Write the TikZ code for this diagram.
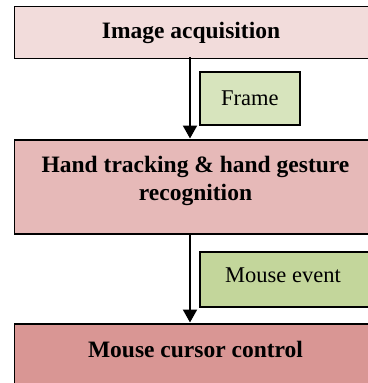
\documentclass[tikz,border=0pt]{standalone}
\usepackage{fontspec}
\setmainfont{Liberation Serif}
\usetikzlibrary{arrows.meta}

\definecolor{stageA}{HTML}{F2DCDB}
\definecolor{stageB}{HTML}{E6B9B8}
\definecolor{stageC}{HTML}{D99694}
\definecolor{tagA}{HTML}{D7E4BD}
\definecolor{tagB}{HTML}{C3D69B}

\begin{document}
\begin{tikzpicture}[x=1pt,y=-1pt,
  stagebox/.style={draw=black, line width=1.6pt, rectangle, inner sep=0pt,
    font=\fontsize{23.5}{27}\selectfont\bfseries, align=center},
  tagbox/.style={draw=black, line width=1.8pt, rectangle, inner sep=0pt,
    font=\fontsize{22.5}{26}\selectfont},
  flow/.style={draw=black, line width=2pt,
    -{Triangle[length=13pt,width=14pt]}, shorten >=0.5pt}]

  \useasboundingbox (0,0) rectangle (367,383);

  % processing stages
  \node[stagebox, fill=stageA, minimum width=358pt, minimum height=52pt,
        anchor=north west] (acq) at (13.5,5.5) {};
  \node[font=\fontsize{23.5}{27}\selectfont\bfseries] (acqtxt)
        at (191,33) {Image acquisition};
  \node[stagebox, fill=stageB, minimum width=364pt, minimum height=94pt,
        anchor=north west] (track) at (13.5,139) {};
  \node[font=\fontsize{23.5}{28}\selectfont\bfseries, align=center,
        anchor=north] (tracktxt) at (195.5,153)
        {Hand tracking \& hand gesture\\recognition};
  \node[stagebox, fill=stageC, minimum width=364pt, minimum height=70pt,
        anchor=north west] (ctrl) at (13.5,323) {};
  \node[font=\fontsize{23.5}{27}\selectfont\bfseries] (ctrltxt)
        at (195.5,349) {Mouse cursor control};

  % data passed between stages
  \node[tagbox, fill=tagA, minimum width=100pt, minimum height=53pt,
        anchor=north west] (frame) at (199,71) {Frame};
  \node[tagbox, fill=tagB, minimum width=172pt, minimum height=55pt,
        anchor=north west] (mevent) at (199,251) {};
  \node[font=\fontsize{22.5}{26}\selectfont] (mtxt) at (283,275) {Mouse event};

  % flow arrows
  \coordinate (a1s) at (190,57);
  \coordinate (a1e) at (190,139);
  \coordinate (a2s) at (190,233);
  \coordinate (a2e) at (190,323);
  \draw[flow] (a1s) -- (a1e);
  \draw[flow] (a2s) -- (a2e);
\end{tikzpicture}
\end{document}
